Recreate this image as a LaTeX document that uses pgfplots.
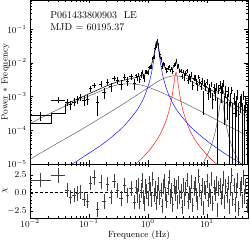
\documentclass[border=0pt]{standalone}
\usepackage{pgfplots}
\pgfplotsset{compat=1.18}
\usepackage{pgfplotstable}

% observed, rebinned power spectrum (log10 f, log10 P*f) with errors and chi residual
\pgfplotstableread{
x ex y ep em r
-1.82 0.18 -3.55 0.10 0.16 1.76
-1.52 0.12 -3.10 0.08 0.10 2.4
-1.370 0.0285 -3.167 0.089 0.112 0.4
-1.313 0.0285 -3.233 0.112 0.151 -0.6
-1.256 0.0285 -3.153 0.104 0.137 -0.3
-1.199 0.0285 -3.085 0.099 0.129 -0.1
-1.142 0.0285 -3.018 0.095 0.122 0.1
-1.085 0.0285 -3.095 0.122 0.169 -0.9
-1.028 0.0285 -3.079 0.129 0.183 -1.1
-0.971 0.0285 -2.764 0.074 0.089 1.4
-0.914 0.0285 -2.667 0.066 0.077 2.1
-0.857 0.0285 -3.178 0.201 0.385 -2.3
-0.800 0.0285 -2.622 0.073 0.087 1.5
-0.743 0.0285 -2.869 0.133 0.192 -1.2
-0.686 0.0285 -2.558 0.076 0.093 1.2
-0.629 0.0285 -2.703 0.112 0.151 -0.6
-0.572 0.0285 -2.448 0.071 0.085 1.6
-0.515 0.0285 -2.522 0.091 0.115 0.3
-0.458 0.0285 -2.626 0.118 0.163 -0.8
-0.401 0.0285 -2.414 0.079 0.097 1.0
-0.344 0.0285 -2.533 0.107 0.141 -0.4
-0.287 0.0285 -2.405 0.085 0.107 0.6
-0.230 0.0285 -2.615 0.137 0.201 -1.3
-0.20 0.01 -2.378 0.058 0.066 0.8
-0.18 0.01 -2.449 0.069 0.081 -0.4
-0.16 0.01 -2.340 0.056 0.063 1.1
-0.14 0.01 -2.488 0.079 0.095 -1.2
-0.12 0.01 -2.360 0.062 0.072 0.3
-0.10 0.01 -2.265 0.051 0.059 1.7
-0.08 0.01 -2.394 0.071 0.084 -0.6
-0.06 0.01 -2.449 0.083 0.103 -1.5
-0.04 0.01 -2.252 0.057 0.065 0.9
-0.02 0.01 -2.266 0.062 0.074 0.2
0.00 0.01 -2.292 0.054 0.062 -0.8
0.02 0.01 -2.137 0.043 0.048 1.3
0.04 0.01 -2.115 0.047 0.052 0.5
0.06 0.01 -2.112 0.056 0.063 -1.0
0.08 0.01 -1.855 0.041 0.044 1.9
0.10 0.01 -1.810 0.051 0.058 -0.3
0.12 0.01 -1.564 0.046 0.051 0.6
0.14 0.01 -1.473 0.059 0.068 -1.4
0.16 0.01 -1.337 0.049 0.055 0.1
0.18 0.01 -1.455 0.044 0.048 1.2
0.20 0.01 -1.753 0.053 0.061 -0.7
0.22 0.01 -1.857 0.047 0.052 0.4
0.24 0.01 -2.094 0.062 0.072 -1.8
0.26 0.01 -2.023 0.044 0.050 0.9
0.28 0.01 -2.038 0.042 0.046 1.6
0.30 0.01 -2.162 0.051 0.057 -0.2
0.32 0.01 -2.233 0.056 0.065 -1.1
0.34 0.01 -2.152 0.046 0.051 0.7
0.36 0.01 -2.092 0.039 0.044 2.2
0.38 0.01 -2.219 0.052 0.059 -0.5
0.40 0.01 -2.165 0.048 0.053 0.3
0.42 0.01 -2.250 0.061 0.069 -1.6
0.44 0.01 -2.058 0.044 0.049 1.0
0.46 0.01 -2.028 0.050 0.056 -0.1
0.48 0.01 -1.931 0.045 0.051 0.8
0.50 0.01 -2.116 0.058 0.066 -1.3
0.52 0.01 -2.072 0.043 0.047 1.4
0.54 0.01 -2.235 0.052 0.061 -0.6
0.56 0.01 -2.234 0.048 0.054 0.2
0.58 0.01 -2.392 0.063 0.075 -2.0
0.60 0.01 -2.241 0.044 0.049 1.1
0.62 0.01 -2.404 0.095 0.122 -0.9
0.64 0.01 -2.299 0.073 0.087 0.5
0.66 0.01 -2.228 0.059 0.070 1.8
0.68 0.01 -2.501 0.101 0.133 -1.2
0.70 0.01 -2.402 0.079 0.097 0.0
0.72 0.01 -2.460 0.085 0.107 -0.4
0.74 0.01 -2.331 0.062 0.073 1.5
0.76 0.01 -2.646 0.114 0.157 -1.7
0.78 0.01 -2.438 0.072 0.085 0.6
0.80 0.01 -2.415 0.065 0.076 1.2
0.82 0.01 -2.556 0.084 0.104 -0.3
0.84 0.01 -2.694 0.107 0.141 -1.4
0.86 0.01 -2.409 0.056 0.064 2.3
0.88 0.01 -2.562 0.074 0.089 0.4
0.90 0.01 -2.692 0.093 0.118 -0.8
0.92 0.01 -2.531 0.086 0.107 1.0
0.94 0.01 -3.045 0.225 0.494 -2.1
0.96 0.01 -2.603 0.091 0.116 0.7
0.98 0.01 -2.691 0.105 0.138 0.1
1.00 0.01 -2.563 0.077 0.094 1.6
1.02 0.01 -2.888 0.143 0.214 -1.0
1.04 0.01 -2.732 0.100 0.130 0.3
1.06 0.01 -2.856 0.123 0.171 -0.5
1.08 0.01 -2.625 0.073 0.087 1.9
1.10 0.01 -3.067 0.171 0.286 -1.5
1.12 0.01 -2.730 0.111 0.149 0.8
1.14 0.01 -2.893 0.149 0.230 -0.2
1.16 0.01 -2.694 0.099 0.127 1.3
1.18 0.01 -3.422 0.374 2.0 -2.4
1.20 0.01 -2.759 0.117 0.161 0.6
1.22 0.01 -2.648 0.103 0.136 1.1
1.24 0.01 -2.874 0.181 0.317 -0.7
1.26 0.01 -2.720 0.131 0.189 0.2
1.28 0.01 -2.602 0.084 0.106 2.0
1.30 0.01 -3.232 0.243 0.604 -1.3
1.32 0.01 -2.827 0.136 0.200 0.9
1.34 0.01 -3.159 0.232 0.530 -0.4
1.36 0.01 -2.839 0.117 0.162 1.4
1.38 0.01 -3.588 0.418 2.0 -1.9
1.40 0.01 -3.040 0.155 0.246 0.5
1.42 0.01 -2.808 0.093 0.117 2.4
1.44 0.01 -3.494 0.320 2.0 -0.9
1.46 0.01 -3.032 0.132 0.190 1.0
1.48 0.01 -3.506 0.374 2.0 -1.6
1.50 0.01 -3.180 0.208 0.411 0.3
1.52 0.01 -2.934 0.124 0.174 1.7
1.54 0.01 -3.517 0.342 2.0 -2.2
1.56 0.01 -3.174 0.181 0.316 0.6
1.58 0.01 -3.078 0.144 0.218 1.2
1.60 0.01 -3.574 0.382 2.0 -1.1
1.62 0.01 -2.938 0.118 0.162 2.1
1.64 0.01 -3.681 0.421 2.0 -0.5
1.66 0.01 -3.183 0.175 0.299 0.9
1.68 0.01 -3.599 0.349 2.0 -1.8
}\obs

% total model
\pgfplotstableread{
x y
-1.40 -3.230
-1.370 -3.208
-1.313 -3.162
-1.256 -3.119
-1.199 -3.074
-1.142 -3.029
-1.085 -2.984
-1.028 -2.939
-0.971 -2.894
-0.914 -2.850
-0.857 -2.806
-0.800 -2.760
-0.743 -2.714
-0.686 -2.672
-0.629 -2.632
-0.572 -2.594
-0.515 -2.553
-0.458 -2.529
-0.401 -2.511
-0.344 -2.487
-0.287 -2.466
-0.230 -2.444
-0.20 -2.430
-0.18 -2.420
-0.16 -2.410
-0.14 -2.395
-0.12 -2.380
-0.10 -2.370
-0.08 -2.350
-0.06 -2.330
-0.04 -2.310
-0.02 -2.280
0.00 -2.248
0.02 -2.200
0.04 -2.140
0.06 -2.056
0.08 -1.944
0.10 -1.794
0.12 -1.594
0.14 -1.393
0.16 -1.342
0.18 -1.513
0.20 -1.715
0.22 -1.877
0.24 -1.988
0.26 -2.068
0.28 -2.114
0.30 -2.151
0.32 -2.172
0.34 -2.187
0.36 -2.194
0.38 -2.192
0.40 -2.180
0.42 -2.157
0.44 -2.107
0.46 -2.023
0.48 -1.971
0.50 -2.042
0.52 -2.139
0.54 -2.203
0.56 -2.244
0.58 -2.273
0.60 -2.295
0.62 -2.318
0.64 -2.340
0.66 -2.362
0.68 -2.382
0.70 -2.402
0.72 -2.424
0.74 -2.445
0.76 -2.466
0.78 -2.487
0.80 -2.508
0.82 -2.529
0.84 -2.551
0.86 -2.573
0.88 -2.595
0.90 -2.616
0.92 -2.638
0.94 -2.660
0.96 -2.681
0.98 -2.703
1.00 -2.724
1.02 -2.745
1.04 -2.767
1.06 -2.790
1.08 -2.810
1.10 -2.830
1.12 -2.845
1.14 -2.859
1.16 -2.868
1.18 -2.866
1.20 -2.848
1.22 -2.800
1.24 -2.740
1.25 -2.728
1.26 -2.752
1.28 -2.848
1.30 -2.936
1.32 -3.002
1.34 -3.051
1.36 -3.087
1.38 -3.119
1.40 -3.146
1.42 -3.173
1.44 -3.197
1.46 -3.222
1.48 -3.246
1.50 -3.268
1.52 -3.291
1.54 -3.313
1.56 -3.335
1.58 -3.357
1.60 -3.380
1.62 -3.399
1.64 -3.421
1.66 -3.441
1.68 -3.462
1.70 -3.482
}\model

% broad low-frequency component
\pgfplotstableread{
x y
-2.0 -3.80
-1.64 -3.48
-1.4 -3.28
-1.0 -2.98
-0.7 -2.76
-0.5 -2.64
-0.3 -2.62
-0.1 -2.66
0.1 -2.78
0.3 -2.93
0.6 -3.17
0.9 -3.44
1.2 -3.72
1.5 -3.99
1.7 -4.18
}\gone

% broad component near 3 Hz
\pgfplotstableread{
x y
-2.0 -4.86
-1.6 -4.45
-1.2 -4.05
-0.8 -3.63
-0.5 -3.31
-0.2 -2.97
0.0 -2.74
0.2 -2.52
0.3 -2.44
0.45 -2.38
0.6 -2.42
0.7 -2.50
0.9 -2.71
1.1 -2.94
1.3 -3.17
1.5 -3.39
1.7 -3.60
}\gtwo

% QPO (blue)
\pgfplotstableread{
x y
-1.4 -5.12
-1.2 -4.91
-1.0 -4.68
-0.8 -4.45
-0.6 -4.18
-0.4 -3.86
-0.2 -3.44
-0.1 -3.15
-0.05 -2.955
0.0 -2.72
0.02 -2.60
0.04 -2.47
0.06 -2.31
0.08 -2.13
0.10 -1.92
0.12 -1.67
0.14 -1.44
0.152 -1.37
0.165 -1.42
0.18 -1.58
0.20 -1.83
0.22 -2.06
0.24 -2.25
0.26 -2.42
0.28 -2.55
0.30 -2.68
0.34 -2.88
0.40 -3.12
0.5 -3.42
0.7 -3.85
0.9 -4.17
1.1 -4.44
1.3 -4.68
1.5 -4.90
1.7 -5.12
}\qpoone

% harmonic (red)
\pgfplotstableread{
x y
-0.3 -5.13
-0.2 -4.99
-0.1 -4.83
0.0 -4.64
0.1 -4.42
0.2 -4.15
0.3 -3.76
0.36 -3.42
0.40 -3.10
0.42 -2.89
0.44 -2.65
0.46 -2.40
0.478 -2.28
0.49 -2.33
0.50 -2.43
0.52 -2.69
0.54 -2.93
0.56 -3.13
0.58 -3.30
0.60 -3.44
0.70 -3.95
0.80 -4.28
0.90 -4.52
1.00 -4.72
1.10 -4.90
1.20 -5.05
}\qpotwo

% narrow component near 18 Hz
\pgfplotstableread{
x y
0.9 -5.06
0.95 -4.93
1.0 -4.76
1.05 -4.57
1.1 -4.33
1.15 -4.00
1.18 -3.73
1.2 -3.52
1.22 -3.28
1.235 -3.12
1.249 -3.05
1.26 -3.09
1.275 -3.23
1.29 -3.41
1.31 -3.64
1.34 -3.93
1.38 -4.22
1.42 -4.44
1.47 -4.66
1.52 -4.84
1.58 -5.01
1.64 -5.17
}\qpothree

\definecolor{compgray}{RGB}{85,85,85}

\begin{document}
\begin{tikzpicture}
\pgfplotsset{
  every axis/.append style={
    scale only axis, width=218pt,
    xmin=-2, xmax=1.7,
    xtick={-2,-1,0,1},
    minor xtick={-1.699,-1.523,-1.398,-1.301,-1.222,-1.155,-1.097,-1.046,
      -0.699,-0.523,-0.398,-0.301,-0.222,-0.155,-0.097,-0.046,
      0.301,0.477,0.602,0.699,0.778,0.845,0.903,0.954,
      1.301,1.477,1.602,1.699},
    tick align=inside,
    major tick length=3.5pt, minor tick length=2pt,
    tick style={black, line width=0.4pt},
    tick label style={font=\small},
    label style={font=\small},
    axis line style={line width=0.5pt},
  }
}
\begin{axis}[
  at={(0pt,0pt)}, anchor=south west,
  height=164pt,
  ymin=-5, ymax=-0.13,
  xticklabels={},
  ytick={-5,-4,-3,-2,-1},
  yticklabels={$10^{-5}$,$10^{-4}$,$10^{-3}$,$10^{-2}$,$10^{-1}$},
  minor ytick={-4.699,-4.523,-4.398,-4.301,-4.222,-4.155,-4.097,-4.046,
    -3.699,-3.523,-3.398,-3.301,-3.222,-3.155,-3.097,-3.046,
    -2.699,-2.523,-2.398,-2.301,-2.222,-2.155,-2.097,-2.046,
    -1.699,-1.523,-1.398,-1.301,-1.222,-1.155,-1.097,-1.046,
    -0.699,-0.523,-0.398,-0.301,-0.222,-0.155},
  ylabel={Power $*$ Frequency},
  ylabel style={at={(axis description cs:-0.112,0.5)}, anchor=center},
]
\addplot[compgray, line width=0.45pt, smooth] table {\gone};
\addplot[compgray, line width=0.45pt, smooth] table {\gtwo};
\addplot[compgray, line width=0.45pt, smooth] table {\qpothree};
\addplot[blue, line width=0.45pt, smooth] table {\qpoone};
\addplot[red, line width=0.45pt, smooth] table {\qpotwo};
\addplot[draw=none, mark=none,
  error bars/.cd, x dir=both, x explicit, y dir=both, y explicit,
  error mark=none, error bar style={draw=black, line width=0.4pt}]
  table[x=x, y=y, x error=ex, y error plus=ep, y error minus=em] {\obs};
\addplot[black, line width=0.55pt, const plot] coordinates {(-2.0,-3.79) (-1.64,-3.50) (-1.40,-3.23)};
\addplot[black, line width=0.55pt] table {\model};
\node[anchor=base west, font=\normalsize] at (axis description cs:0.077,0.89) {P061433800903\ \ LE};
\node[anchor=base west, font=\normalsize] at (axis description cs:0.077,0.817) {MJD = 60195.37};
\end{axis}

\begin{axis}[
  at={(0pt,0pt)}, anchor=north west,
  height=54pt,
  ymin=-3.5, ymax=4,
  xticklabels={$10^{-2}$,$10^{-1}$,$10^{0}$,$10^{1}$},
  xticklabel style={yshift=1.5pt},
  ytick={-2.5,0,2.5},
  yticklabels={$-2.5$,$0.0$,$2.5$},
  minor y tick num=4,
  xlabel={Frequence (Hz)},
  xlabel style={at={(axis description cs:0.5,0)}, anchor=center, yshift=-17pt},
  ylabel={$\chi$},
  ylabel style={at={(axis description cs:-0.115,0.5)}, anchor=center},
]
\addplot[black, line width=0.8pt, dash pattern=on 3pt off 2pt] coordinates {(-2,0) (1.7,0)};
\addplot[draw=none, mark=none,
  error bars/.cd, x dir=both, x explicit, y dir=both, y fixed=1,
  error mark=none, error bar style={draw=black!75, line width=0.4pt}]
  table[x=x, y=r, x error=ex] {\obs};
\end{axis}
\pgfresetboundingbox
\useasboundingbox (-30pt,-76pt) rectangle (220pt,164pt);
\end{tikzpicture}
\end{document}
